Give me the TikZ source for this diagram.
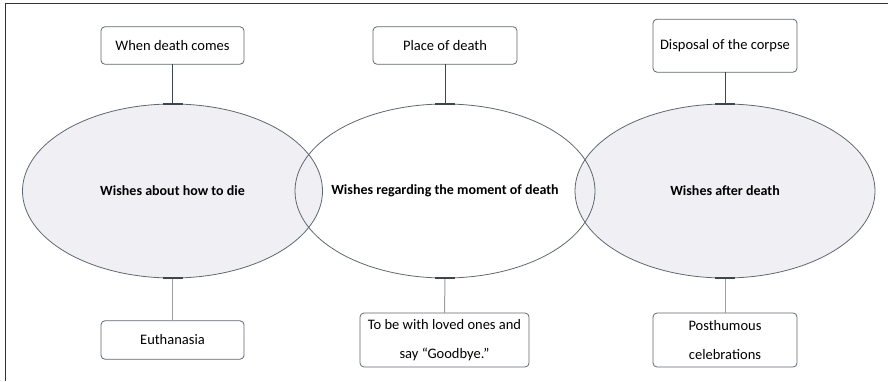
\documentclass[tikz,border=0pt]{standalone}
\usepackage{fontspec}
\setmainfont{Carlito}
\usetikzlibrary{shapes.geometric}
\definecolor{ellfill}{HTML}{F0F0F4}
\definecolor{edge}{HTML}{5F6870}
\definecolor{darkcon}{HTML}{3C4650}
\definecolor{lightcon}{HTML}{9A9EA2}
\begin{document}
\begin{tikzpicture}[x=1pt,y=-1pt,
  box/.style={draw=edge, line width=0.8pt, rounded corners=4pt, fill=white,
    align=center, font=\fontsize{14.5}{29}\selectfont, inner sep=0pt, outer sep=0pt},
  ell/.style={ellipse, draw=edge, line width=0.8pt, minimum width=300pt,
    minimum height=174pt, inner sep=0pt, outer sep=0pt},
  elltext/.style={font=\fontsize{14}{17}\selectfont\bfseries, inner sep=0pt},
  upcon/.style={draw=darkcon, line width=0.8pt},
  downcon/.style={draw=lightcon, line width=1pt},
  tick/.style={draw=darkcon, line width=1.6pt}]
\useasboundingbox (0,0) rectangle (888,381);
\draw[line width=1.6pt, black!80] (5.5,381) -- (5.5,3.5) -- (888,3.5);
% fills
\fill[white] (445,191) ellipse [x radius=150, y radius=87];
\fill[ellfill] (172.5,191) ellipse [x radius=150, y radius=87];
\fill[ellfill] (725,191) ellipse [x radius=150, y radius=87];
% ellipses
\node[ell] (el) at (172.5,191) {};
\node[ell] (em) at (445,191) {};
\node[ell] (er) at (725,191) {};
\node[elltext] (tel) at (el.center) {Wishes about how to die};
\node[elltext] (tem) at (em.center) {Wishes regarding the moment of death};
\node[elltext] (ter) at (er.center) {Wishes after death};
% boxes
\node[box, minimum width=143pt, minimum height=37.5pt] (tl) at (172.5,45.5) {When death comes};
\node[box, minimum width=144pt, minimum height=37.5pt] (tm) at (445,45.5) {Place of death};
\node[box, minimum width=144pt, minimum height=53pt] (tr) at (725,45.7) {Disposal of the corpse};
\node[box, minimum width=143pt, minimum height=38.5pt] (bl) at (172.5,340) {Euthanasia};
\node[box, minimum width=169pt, minimum height=54pt] (bm) at (444.5,340) {To be with loved ones and\\say “Goodbye.”};
\node[box, minimum width=144pt, minimum height=54pt] (br) at (725,340) {Posthumous\\celebrations};
% connectors
\foreach \b/\e in {tl/el, tm/em, tr/er} {
  \draw[upcon] (\b.south) -- (\e.north);
  \draw[tick] ([xshift=-10pt]\e.north) -- ([xshift=10pt]\e.north);
}
\foreach \b/\e in {bl/el, bm/em, br/er} {
  \draw[downcon] (\e.south) -- (\b.north);
  \draw[tick] ([xshift=-10pt]\e.south) -- ([xshift=10pt]\e.south);
}
\end{tikzpicture}
\end{document}
